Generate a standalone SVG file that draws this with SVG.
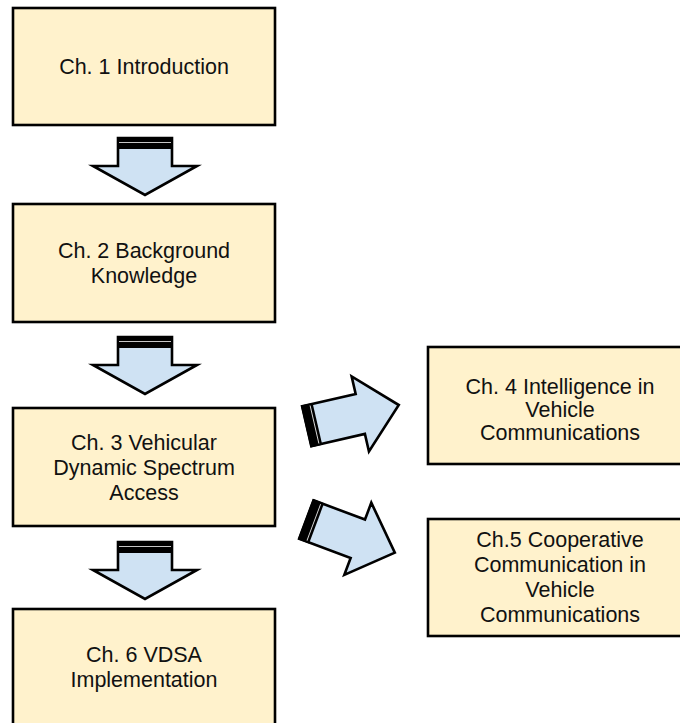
<svg xmlns="http://www.w3.org/2000/svg" width="680" height="723" viewBox="0 0 680 723">
<defs>
<style>
.box{fill:#FFF2CC;stroke:#000;stroke-width:2.6}
.lbl{font-family:"Liberation Sans",Arial,sans-serif;font-size:21.5px;fill:#111;text-anchor:middle}
.arr{fill:#CFE2F3;stroke:#000;stroke-width:2.6;stroke-linejoin:miter}
.band{fill:#000}
.hl{stroke:#ddd;stroke-width:0.9}
</style>
<g id="vArrow">
<path class="arr" d="M-27,0 L27,0 L27,28 L52,28 L0,57 L-52,28 L-27,28 Z"/>
<rect class="band" x="-28" y="-1" width="56" height="12" rx="1"/>
<line class="hl" x1="-26" y1="4.5" x2="26" y2="4.5"/>
</g>
<g id="dArrow">
<path class="arr" d="M0,-20.5 L55,-20.5 L55,-38.5 L94.5,0 L55,38.5 L55,20.5 L0,20.5 Z"/>
<rect class="band" x="-1" y="-21.5" width="12" height="43"/>
<line class="hl" x1="8" y1="-19.5" x2="8" y2="19.5"/>
</g>
</defs>
<rect width="680" height="723" fill="#fff"/>
<g id="connectors">
<use href="#vArrow" x="145" y="138"/>
<use href="#vArrow" x="145" y="337"/>
<use href="#vArrow" x="145" y="542"/>
<use href="#dArrow" transform="translate(306.7,426.3) rotate(-13)"/>
<use href="#dArrow" transform="translate(306.3,519.5) rotate(20.5)"/>
</g>
<g id="ch1">
<rect class="box" x="13" y="8" width="262" height="117"/>
<text class="lbl" x="144" y="74">Ch. 1 Introduction</text>
</g>
<g id="ch2">
<rect class="box" x="13" y="204" width="262" height="118"/>
<text class="lbl" x="144" y="258">Ch. 2 Background</text>
<text class="lbl" x="144" y="283">Knowledge</text>
</g>
<g id="ch3">
<rect class="box" x="13" y="408" width="262" height="118"/>
<text class="lbl" x="144" y="450">Ch. 3 Vehicular</text>
<text class="lbl" x="144" y="475">Dynamic Spectrum</text>
<text class="lbl" x="144" y="499.5">Access</text>
</g>
<g id="ch6">
<rect class="box" x="13" y="609" width="262" height="130"/>
<text class="lbl" x="144" y="662">Ch. 6 VDSA</text>
<text class="lbl" x="144" y="687">Implementation</text>
</g>
<g id="ch4">
<rect class="box" x="428" y="347" width="270" height="117"/>
<text class="lbl" x="560" y="394">Ch. 4 Intelligence in</text>
<text class="lbl" x="560" y="417">Vehicle</text>
<text class="lbl" x="560" y="440">Communications</text>
</g>
<g id="ch5">
<rect class="box" x="428" y="519" width="270" height="117"/>
<text class="lbl" x="560" y="547">Ch.5 Cooperative</text>
<text class="lbl" x="560" y="572">Communication in</text>
<text class="lbl" x="560" y="597">Vehicle</text>
<text class="lbl" x="560" y="622">Communications</text>
</g>
</svg>
